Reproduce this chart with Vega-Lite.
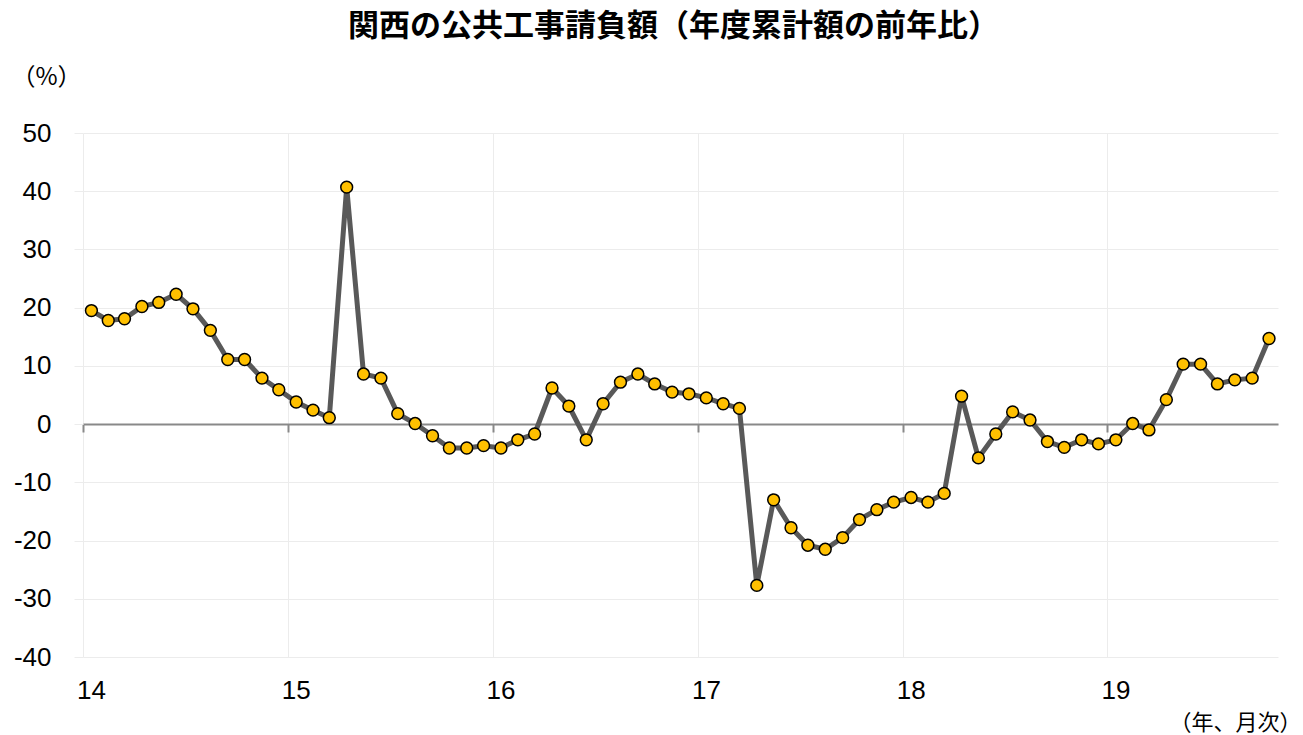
{
  "$schema": "https://vega.github.io/schema/vega-lite/v6.json",
  "width": 1195,
  "height": 524,
  "autosize": "none",
  "padding": {"left": 83, "top": 133, "right": 25, "bottom": 78},
  "background": "white",
  "config": {"view": {"stroke": null}},
  "title": {
    "text": "関西の公共工事請負額（年度累計額の前年比）",
    "font": "Noto Sans CJK JP",
    "fontSize": 31,
    "fontWeight": "bold",
    "color": "#000000",
    "anchor": "middle",
    "frame": "group",
    "dx": -7,
    "offset": 22
  },
  "data": {
    "values": [
      {"t": "2014-01-16", "v": 19.5}, {"t": "2014-02-15", "v": 17.8}, {"t": "2014-03-16", "v": 18.1}, {"t": "2014-04-16", "v": 20.2}, {"t": "2014-05-16", "v": 20.9}, {"t": "2014-06-16", "v": 22.3}, {"t": "2014-07-16", "v": 19.8}, {"t": "2014-08-16", "v": 16.1}, {"t": "2014-09-16", "v": 11.1}, {"t": "2014-10-16", "v": 11.1}, {"t": "2014-11-16", "v": 7.9}, {"t": "2014-12-16", "v": 5.9},
      {"t": "2015-01-16", "v": 3.8}, {"t": "2015-02-15", "v": 2.4}, {"t": "2015-03-16", "v": 1.1}, {"t": "2015-04-16", "v": 40.7}, {"t": "2015-05-16", "v": 8.6}, {"t": "2015-06-16", "v": 7.9}, {"t": "2015-07-16", "v": 1.8}, {"t": "2015-08-16", "v": 0.1}, {"t": "2015-09-16", "v": -2.0}, {"t": "2015-10-16", "v": -4.1}, {"t": "2015-11-16", "v": -4.1}, {"t": "2015-12-16", "v": -3.7},
      {"t": "2016-01-16", "v": -4.1}, {"t": "2016-02-15", "v": -2.7}, {"t": "2016-03-16", "v": -1.7}, {"t": "2016-04-16", "v": 6.2}, {"t": "2016-05-16", "v": 3.1}, {"t": "2016-06-16", "v": -2.7}, {"t": "2016-07-16", "v": 3.5}, {"t": "2016-08-16", "v": 7.2}, {"t": "2016-09-16", "v": 8.6}, {"t": "2016-10-16", "v": 6.9}, {"t": "2016-11-16", "v": 5.5}, {"t": "2016-12-16", "v": 5.2},
      {"t": "2017-01-16", "v": 4.5}, {"t": "2017-02-15", "v": 3.5}, {"t": "2017-03-16", "v": 2.7}, {"t": "2017-04-16", "v": -27.7}, {"t": "2017-05-16", "v": -13.0}, {"t": "2017-06-16", "v": -17.8}, {"t": "2017-07-16", "v": -20.8}, {"t": "2017-08-16", "v": -21.5}, {"t": "2017-09-16", "v": -19.5}, {"t": "2017-10-16", "v": -16.4}, {"t": "2017-11-16", "v": -14.7}, {"t": "2017-12-16", "v": -13.4},
      {"t": "2018-01-16", "v": -12.6}, {"t": "2018-02-15", "v": -13.4}, {"t": "2018-03-16", "v": -11.9}, {"t": "2018-04-16", "v": 4.8}, {"t": "2018-05-16", "v": -5.8}, {"t": "2018-06-16", "v": -1.7}, {"t": "2018-07-16", "v": 2.1}, {"t": "2018-08-16", "v": 0.7}, {"t": "2018-09-16", "v": -3.0}, {"t": "2018-10-16", "v": -4.0}, {"t": "2018-11-16", "v": -2.7}, {"t": "2018-12-16", "v": -3.4},
      {"t": "2019-01-16", "v": -2.7}, {"t": "2019-02-15", "v": 0.1}, {"t": "2019-03-16", "v": -1.0}, {"t": "2019-04-16", "v": 4.2}, {"t": "2019-05-16", "v": 10.3}, {"t": "2019-06-16", "v": 10.3}, {"t": "2019-07-16", "v": 6.9}, {"t": "2019-08-16", "v": 7.6}, {"t": "2019-09-16", "v": 7.9}, {"t": "2019-10-16", "v": 14.7}
    ]
  },
  "layer": [
    {
      "mark": {"type": "line", "color": "#595959", "strokeWidth": 5},
      "encoding": {
        "x": {
          "field": "t",
          "type": "temporal",
          "scale": {
            "type": "utc",
            "domain": [{"year": 2014, "month": 1, "date": 1, "utc": true}, {"year": 2019, "month": 11, "date": 1, "utc": true}]
          },
          "axis": {
            "orient": "bottom",
            "values": [
              {"year": 2014, "month": 1, "date": 1, "utc": true},
              {"year": 2015, "month": 1, "date": 1, "utc": true},
              {"year": 2016, "month": 1, "date": 1, "utc": true},
              {"year": 2017, "month": 1, "date": 1, "utc": true},
              {"year": 2018, "month": 1, "date": 1, "utc": true},
              {"year": 2019, "month": 1, "date": 1, "utc": true}
            ],
            "labelExpr": "utcFormat(datum.value, '%y')",
            "domain": false,
            "ticks": false,
            "grid": true,
            "gridColor": "#ececec",
            "gridWidth": 1,
            "labelFont": "Liberation Sans",
            "labelFontSize": 26,
            "labelColor": "#000000",
            "labelPadding": 20,
            "labelOffset": 8,
            "labelFlush": false,
            "labelOverlap": false,
            "labelBound": false,
            "title": "（年、月次）",
            "titleFont": "Noto Sans CJK JP",
            "titleFontSize": 22,
            "titleFontWeight": "normal",
            "titleColor": "#000000",
            "titleAlign": "right",
            "titleBaseline": "middle",
            "titleX": 1218,
            "titleY": 65
          }
        },
        "y": {
          "field": "v",
          "type": "quantitative",
          "scale": {"domain": [-40, 50], "nice": false, "zero": false},
          "axis": {
            "values": [-40, -30, -20, -10, 0, 10, 20, 30, 40, 50],
            "labelExpr": "'' + datum.value",
            "domain": false,
            "ticks": true,
            "tickColor": "#ececec",
            "tickSize": 9,
            "grid": true,
            "gridColor": "#ececec",
            "gridWidth": 1,
            "labelFont": "Liberation Sans",
            "labelFontSize": 26,
            "labelColor": "#000000",
            "labelPadding": 23,
            "title": "（%）",
            "titleFont": "Noto Sans CJK JP",
            "titleFontSize": 24,
            "titleFontWeight": "normal",
            "titleColor": "#000000",
            "titleAngle": 0,
            "titleAlign": "left",
            "titleBaseline": "middle",
            "titleX": -72,
            "titleY": -56
          }
        }
      }
    },
    {
      "mark": {"type": "point", "filled": true, "fill": "#FFC000", "stroke": "#000000", "strokeWidth": 1.5, "size": 140, "opacity": 1},
      "encoding": {
        "x": {
          "field": "t",
          "type": "temporal",
          "axis": {
            "orient": "bottom",
            "offset": -233,
            "values": [
              {"year": 2014, "month": 1, "date": 1, "utc": true},
              {"year": 2015, "month": 1, "date": 1, "utc": true},
              {"year": 2016, "month": 1, "date": 1, "utc": true},
              {"year": 2017, "month": 1, "date": 1, "utc": true},
              {"year": 2018, "month": 1, "date": 1, "utc": true},
              {"year": 2019, "month": 1, "date": 1, "utc": true}
            ],
            "domain": true,
            "domainColor": "#898989",
            "domainWidth": 2,
            "ticks": true,
            "tickColor": "#898989",
            "tickWidth": 2,
            "tickSize": 8,
            "labels": false,
            "grid": false,
            "title": null
          }
        },
        "y": {"field": "v", "type": "quantitative"}
      }
    }
  ],
  "resolve": {"axis": {"x": "independent"}}
}
